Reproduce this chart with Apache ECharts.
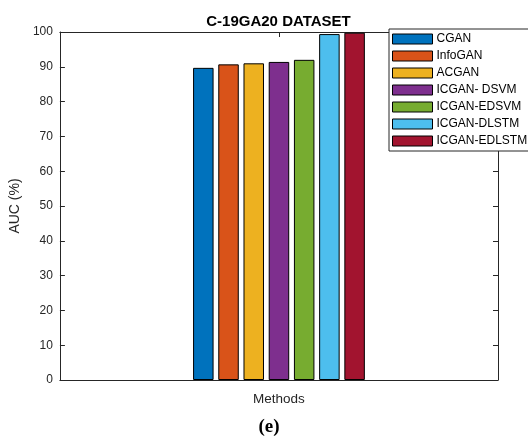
<!DOCTYPE html>
<html>
<head>
<meta charset="utf-8">
<script src="https://cdn.jsdelivr.net/npm/echarts@6/dist/echarts.min.js"></script>
<style>
html,body{margin:0;padding:0;background:#fff;}
#chart{width:528px;height:437px;}
</style>
</head>
<body>
<div id="chart"></div>
<script>
var methods = ['CGAN', 'InfoGAN', 'ACGAN', 'ICGAN- DSVM', 'ICGAN-EDSVM', 'ICGAN-DLSTM', 'ICGAN-EDLSTM'];
var aucValues = [89.7, 90.7, 91.0, 91.4, 92.0, 99.4, 99.8];
var yTicks = [0, 10, 20, 30, 40, 50, 60, 70, 80, 90, 100];
var groupCategories = [''];

var colors = ['#0072BD', '#D95319', '#EDB120', '#7E2F8E', '#77AC30', '#4DBEEE', '#A2142F'];
var axisColor = '#262626';
var font = 'Liberation Sans, Arial, Helvetica, sans-serif';

var chart = echarts.init(document.getElementById('chart'), null, {renderer: 'canvas'});

var series = methods.map(function (m, i) {
  return {
    name: m,
    type: 'bar',
    xAxisIndex: 0,
    yAxisIndex: 0,
    data: [aucValues[i]],
    barWidth: 20.5,
    barGap: '23%',
    itemStyle: {color: colors[i], borderColor: '#000', borderWidth: 1},
    emphasis: {disabled: true}
  };
});

var yAxisCommon = {
  type: 'value',
  min: yTicks[0],
  max: yTicks[yTicks.length - 1],
  interval: 10,
  axisLine: {show: true, lineStyle: {color: axisColor, width: 1}},
  axisTick: {show: true, inside: true, length: 5, lineStyle: {color: axisColor}},
  splitLine: {show: false}
};

var xAxisCommon = {
  type: 'category',
  data: groupCategories,
  axisLine: {show: true, onZero: false, lineStyle: {color: axisColor, width: 1}},
  axisTick: {show: true, inside: true, alignWithLabel: true, length: 5, lineStyle: {color: axisColor}},
  axisLabel: {show: false},
  splitLine: {show: false}
};

chart.setOption({
  animation: false,
  backgroundColor: '#fff',
  textStyle: {fontFamily: font},
  title: {
    text: 'C-19GA20 DATASET',
    left: 273.5,
    textAlign: 'center',
    top: 9,
    textStyle: {fontSize: 15, fontWeight: 'bold', color: '#000', fontFamily: font}
  },
  grid: {left: 59, right: 30, top: 32, bottom: 57, containLabel: false},
  legend: {
    orient: 'vertical',
    left: 389,
    top: 29,
    data: methods,
    icon: 'rect',
    itemWidth: 40,
    itemHeight: 10,
    itemGap: 5,
    padding: [4, 2, 4, 3],
    backgroundColor: '#fff',
    borderColor: axisColor,
    borderWidth: 1,
    selectedMode: false,
    textStyle: {fontSize: 12, lineHeight: 12, color: '#000', fontFamily: font, padding: [0, 0, 0, -1]},
    itemStyle: {borderColor: '#000', borderWidth: 1}
  },
  xAxis: [
    Object.assign({}, xAxisCommon, {
      position: 'bottom',
      name: 'Methods',
      nameLocation: 'middle',
      nameGap: 12,
      nameTextStyle: {fontSize: 13.5, color: axisColor, fontFamily: font}
    }),
    Object.assign({}, xAxisCommon, {position: 'top'})
  ],
  yAxis: [
    Object.assign({}, yAxisCommon, {
      position: 'left',
      name: 'AUC (%)',
      nameLocation: 'middle',
      nameGap: 31,
      nameTextStyle: {fontSize: 14, color: axisColor, fontFamily: font},
      axisLabel: {show: true, fontSize: 12, color: axisColor, fontFamily: font, margin: 7}
    }),
    Object.assign({}, yAxisCommon, {position: 'right', axisLabel: {show: false}})
  ],
  series: series,
  graphic: [{
    type: 'text',
    x: 269,
    y: 427,
    style: {
      text: '(e)',
      font: 'bold 19px "Liberation Serif", "Times New Roman", serif',
      fill: '#000',
      align: 'center',
      verticalAlign: 'middle'
    }
  }]
});
</script>
</body>
</html>
